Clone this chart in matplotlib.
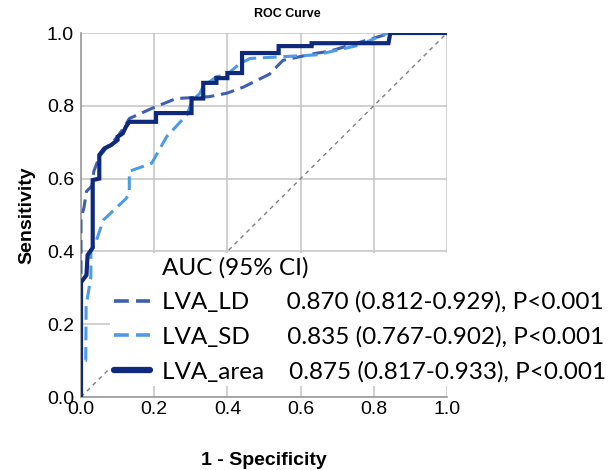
import matplotlib
matplotlib.use('Agg')
import matplotlib.pyplot as plt
from matplotlib.lines import Line2D

# ROC curve points
ld_fpr = [0, 0, 0.008, 0.015, 0.03, 0.035, 0.05, 0.07, 0.1, 0.12, 0.132, 0.196, 0.26, 0.35, 0.40,
          0.445, 0.515, 0.552, 0.64, 0.68, 0.83, 0.85, 1.0]
ld_tpr = [0, 0.49, 0.52, 0.565, 0.58, 0.62, 0.66, 0.685, 0.715, 0.745, 0.765, 0.794, 0.82, 0.825, 0.835,
          0.852, 0.887, 0.925, 0.944, 0.95, 0.995, 1.0, 1.0]

sd_fpr = [0, 0, 0.013, 0.014, 0.027, 0.027, 0.041, 0.061, 0.123, 0.132, 0.132, 0.193, 0.234, 0.289, 0.305,
          0.325, 0.333, 0.37, 0.398, 0.434, 0.462, 0.552, 0.644, 0.762, 0.825, 0.84, 1.0]
sd_tpr = [0, 0.1, 0.1, 0.25, 0.33, 0.40, 0.427, 0.486, 0.545, 0.56, 0.62, 0.642, 0.715, 0.775, 0.816,
          0.834, 0.852, 0.88, 0.885, 0.916, 0.93, 0.935, 0.94, 0.967, 0.995, 1.0, 1.0]

area_fpr = [0, 0, 0.015, 0.018, 0.032, 0.032, 0.05, 0.05, 0.064, 0.082, 0.1, 0.1, 0.114, 0.123, 0.132,
            0.205, 0.205, 0.302, 0.302, 0.334, 0.334, 0.37, 0.37, 0.40, 0.40, 0.44, 0.44, 0.54, 0.54,
            0.63, 0.63, 0.84, 0.845, 1.0]
area_tpr = [0, 0.315, 0.335, 0.39, 0.41, 0.596, 0.6, 0.665, 0.683, 0.692, 0.706, 0.715, 0.724, 0.743, 0.756,
            0.756, 0.78, 0.78, 0.82, 0.82, 0.863, 0.863, 0.876, 0.876, 0.89, 0.89, 0.945, 0.945, 0.964,
            0.964, 0.972, 0.972, 1.0, 1.0]

names = ['LVA_LD', 'LVA_SD', 'LVA_area']
auc_text = ['0.870 (0.812-0.929), P<0.001', '0.835 (0.767-0.902), P<0.001', '0.875 (0.817-0.933), P<0.001']
ticks = [0.0, 0.2, 0.4, 0.6, 0.8, 1.0]

c_ld = '#3f5fb0'
c_sd = '#4d9be6'
c_area = '#0f2a7c'

fig = plt.figure(figsize=(6.14, 4.70), dpi=100)
ax = fig.add_axes([81 / 614, 1 - 397 / 470, 366 / 614, 364 / 470])

ax.plot([0, 1], [0, 1], color='#808080', lw=1, dashes=(3, 3), zorder=2)
ax.plot(ld_fpr, ld_tpr, color=c_ld, lw=2.2, dashes=(4.5, 2.2), zorder=3)
ax.plot(sd_fpr, sd_tpr, color=c_sd, lw=2.2, dashes=(4.5, 2.2), zorder=3)
ax.plot(area_fpr, area_tpr, color=c_area, lw=3, zorder=4, solid_joinstyle='miter')

ax.set_xlim(0, 1)
ax.set_ylim(0, 1)
ax.set_xticks(ticks)
ax.set_yticks(ticks)
ax.set_xticklabels(['%.1f' % t for t in ticks], family='Liberation Sans', fontsize=14)
ax.set_yticklabels(['%.1f' % t for t in ticks], family='Liberation Sans', fontsize=14)
ax.tick_params(axis='x', length=0, pad=3)
ax.tick_params(axis='y', length=0, pad=5)
ax.grid(True, color='#c8c8c8', lw=1.2)
ax.set_axisbelow(True)
for s in ['top', 'right']:
    ax.spines[s].set_visible(False)
for s in ['left', 'bottom']:
    ax.spines[s].set_color('#9a9a9a')
    ax.spines[s].set_linewidth(1.2)

ax.set_xlabel('1 - Specificity', family='Liberation Sans', fontweight='bold', fontsize=14, labelpad=24)
ax.set_ylabel('Sensitivity', family='Liberation Sans', fontweight='bold', fontsize=14, labelpad=8)
fig.text(287 / 614, 1 - 14 / 470, 'ROC Curve', family='Liberation Sans', fontweight='bold',
         fontsize=9, ha='center', va='center')

handles = [Line2D([], [], color='none'),
           Line2D([], [], color=c_ld, lw=2.6, dashes=(4.1, 2)),
           Line2D([], [], color=c_sd, lw=2.6, dashes=(4.1, 2)),
           Line2D([], [], color=c_area, lw=4.5, solid_capstyle='round')]
pads = ['      ', '      ', '    ']
labels = ['AUC (95% CI)'] + [n + p + a for n, p, a in zip(names, pads, auc_text)]
leg = ax.legend(handles, labels, loc='upper left', bbox_to_anchor=(110 / 614, 1 - 253 / 470),
                bbox_transform=fig.transFigure, borderaxespad=0, borderpad=0.15,
                handlelength=1.5, handletextpad=0.5, labelspacing=0.55,
                frameon=True, fancybox=False, prop={'family': 'Lato', 'size': 17.5})
leg.get_frame().set_facecolor('white')
leg.get_frame().set_edgecolor('none')
leg.get_frame().set_alpha(1)
leg.set_zorder(5)

fig.savefig('out.png', dpi=100)
